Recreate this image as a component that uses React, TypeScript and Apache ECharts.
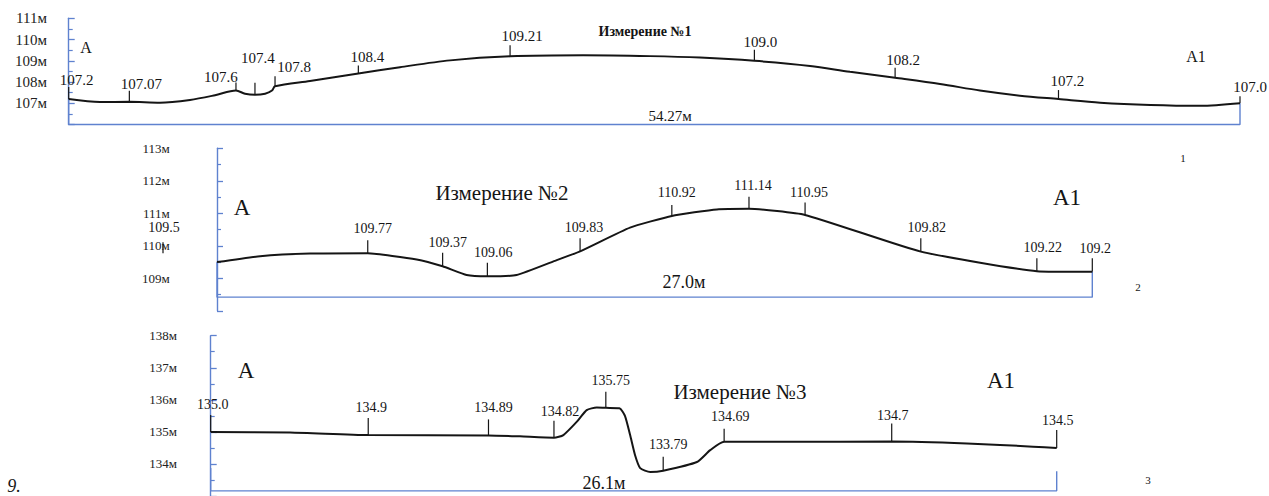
import React, { useEffect, useRef } from 'react';
import * as echarts from 'echarts';

// ---------------- data ----------------
// Measurement 1
const length1 = 54.27;
const yMin1 = 106;
const yMax1 = 111;
const dist1 = [0, 1.45, 2.81, 4.23, 5.62, 6.78, 7.75, 8.17, 8.63, 9.1, 9.42, 9.56, 11.18, 13.42, 15.35, 17.67, 20.45, 23.83, 26.93, 29.25, 31.77, 34.35, 36.2, 38.29, 40.37, 42.22, 44.07, 45.86, 47.79, 50.11, 52.43, 54.27];
const elev1 = [107.2, 107.06, 107.07, 107.03, 107.16, 107.38, 107.6, 107.45, 107.4, 107.45, 107.6, 107.8, 108.05, 108.4, 108.7, 109.02, 109.21, 109.26, 109.22, 109.15, 109.0, 108.76, 108.48, 108.2, 107.91, 107.6, 107.36, 107.2, 107.03, 106.92, 106.88, 107.0];
const markDist1 = [0, 2.81, 7.75, 8.63, 9.56, 13.42, 20.45, 31.77, 38.29, 45.86, 54.27];
const markElev1 = [107.2, 107.07, 107.6, 107.4, 107.8, 108.4, 109.21, 109.0, 108.2, 107.2, 107.0];
const markText1 = ['107.2', '107.07', '107.6', '107.4', '107.8', '108.4', '109.21', '109.0', '108.2', '107.2', '107.0'];
const base1 = 106.0;

// Measurement 2
const length2 = 27.0;
const yMin2 = 108;
const yMax2 = 113;
const dist2 = [0, 1.33, 2.87, 4.65, 6.16, 6.96, 7.7, 8.34, 9.24, 10.48, 11.2, 12.74, 14.03, 15.42, 16.41, 18.14, 21.71, 25.29, 27.0];
const elev2 = [109.5, 109.68, 109.76, 109.77, 109.58, 109.37, 109.1, 109.06, 109.1, 109.56, 109.83, 110.56, 110.92, 111.12, 111.14, 110.95, 109.82, 109.22, 109.2];
const markDist2 = [0, 4.65, 6.96, 8.34, 11.2, 14.03, 16.41, 18.14, 21.71, 25.29, 27.0];
const markElev2 = [109.5, 109.77, 109.37, 109.06, 109.83, 110.92, 111.14, 110.95, 109.82, 109.22, 109.2];
const markText2 = ['109.5', '109.77', '109.37', '109.06', '109.83', '110.92', '111.14', '110.95', '109.82', '109.22', '109.2'];
const base2 = 108.42;

// Measurement 3
const length3 = 26.1;
const yMin3 = 133;
const yMax3 = 138;
const dist3 = [0, 2.45, 4.86, 8.57, 9.54, 10.59, 10.88, 11.29, 11.6, 11.91, 12.19, 12.61, 12.78, 12.94, 13.09, 13.25, 13.56, 13.96, 15.0, 15.41, 15.84, 17.77, 21.01, 23.33, 25.37, 26.1];
const elev3 = [135.0, 134.98, 134.9, 134.89, 134.86, 134.82, 134.9, 135.31, 135.68, 135.76, 135.75, 135.74, 135.5, 134.9, 134.28, 133.87, 133.75, 133.79, 134.06, 134.43, 134.69, 134.69, 134.7, 134.64, 134.54, 134.5];
const markDist3 = [0, 4.86, 8.57, 10.59, 12.19, 13.96, 15.84, 21.01, 26.1];
const markElev3 = [135.0, 134.9, 134.89, 134.82, 135.75, 133.79, 134.69, 134.7, 134.5];
const markText3 = ['135.0', '134.9', '134.89', '134.82', '135.75', '133.79', '134.69', '134.7', '134.5'];
const base3 = 133.16;
const bracketTop3 = [133.87, 133.77];

const titles = ['Измерение №1', 'Измерение №2', 'Измерение №3'];
const lengthLabels = ['54.27м', '27.0м', '26.1м'];
const panelNumbers = ['1', '2', '3'];

// ---------------- styles / layout ----------------
const BLUE = '#5f82cf';
const INK = '#151515';
const FONT = 'serif';

const grids = [
  { left: 68.7, top: 18.3, width: 1171.3, height: 106.25 },
  { left: 217, top: 148.3, width: 875.3, height: 162.5 },
  { left: 210.7, top: 335.7, width: 846, height: 162.5 },
];
const axisOffsets = [18.7, 44.3, 30.7];
const axisFont = [15, 13, 13];

type MarkStyle = { dx: number[]; tick: number[]; lift: number[]; tickDx?: number[]; tickGap?: number[] };

const markStyle1: MarkStyle = {
  dx: [8, 12, -15, 3, 19, 9, 12, 6, 8, 9, 10],
  tick: [12, 11, 8, 12, 10, 8, 11, 11, 10, 9, 7],
  lift: [19, 18, 14, 37, 19, 17, 20, 19, 18, 18, 16],
};
const markStyle2: MarkStyle = {
  dx: [-53, 5, 5, 6, 4, 5, 4, 4, 6, 6, 3],
  tick: [11, 13, 13.5, 13.5, 13, 11, 12, 12.5, 13.5, 13, 13.5],
  lift: [34.7, 24.3, 23.3, 23.7, 24.3, 23.2, 23.7, 22.2, 23.7, 23.2, 23.8],
  tickDx: [-54, 0, 0, 0, 0, 0, 0, 0, 0, 0, 0],
  tickGap: [8.7, 0, 0, 0, 0, 0, 0, 0, 0, 0, 0],
};
const markStyle3: MarkStyle = {
  dx: [2, 3, 5, 6, 5, 5, 6, 1, 1],
  tick: [17, 17, 16, 17, 16, 14, 13, 18, 18],
  lift: [27.3, 27.2, 27.6, 26.4, 27.3, 26.6, 25.7, 26.3, 27.8],
};

function markSeries(idx: number, dist: number[], elev: number[], text: string[], st: MarkStyle, fontSize: number) {
  return {
    type: 'custom',
    xAxisIndex: idx,
    yAxisIndex: idx,
    clip: false,
    silent: true,
    data: dist.map((d, i) => [d, elev[i], i]),
    renderItem: (_params: any, api: any) => {
      const i = api.value(2) as number;
      const p = api.coord([api.value(0), api.value(1)]);
      const tx = p[0] + (st.tickDx ? st.tickDx[i] : 0);
      const y0 = p[1] - (st.tickGap ? st.tickGap[i] : 0);
      return {
        type: 'group',
        children: [
          { type: 'line', shape: { x1: tx, y1: y0, x2: tx, y2: y0 - st.tick[i] }, style: { stroke: INK, lineWidth: 1.2 } },
          {
            type: 'text',
            x: p[0] + st.dx[i],
            y: p[1] - st.lift[i],
            style: {
              text: text[i], fill: INK, fontSize, fontFamily: FONT,
              align: 'center', verticalAlign: 'middle', textAlign: 'center', textVerticalAlign: 'middle',
            },
          },
        ],
      };
    },
  };
}

function yAxis(idx: number, min: number, max: number) {
  return {
    type: 'value', gridIndex: idx, min, max, interval: 1, position: 'left', offset: axisOffsets[idx],
    axisLine: { show: true, lineStyle: { color: BLUE, width: 1.4 } },
    axisTick: { show: true, inside: true, length: 6, lineStyle: { color: BLUE, width: 1.3 } },
    minorTick: { show: true, splitNumber: 2, length: 4, lineStyle: { color: BLUE, width: 1.2 } },
    splitLine: { show: false },
    axisLabel: {
      showMinLabel: false, margin: 3, color: '#222', fontFamily: FONT, fontSize: axisFont[idx],
      formatter: (v: number) => (v === min ? '' : `${v}м`),
    },
  };
}

function xAxis(idx: number, max: number) {
  return { type: 'value', gridIndex: idx, min: 0, max, show: false };
}

function profileSeries(idx: number, dist: number[], elev: number[], smooth: number) {
  return {
    type: 'line', xAxisIndex: idx, yAxisIndex: idx, symbol: 'none', smooth, clip: false, silent: true,
    data: dist.map((d, i) => [d, elev[i]]),
    lineStyle: { color: INK, width: 2 },
  };
}

function bracketSeries(idx: number, pts: number[][]) {
  return {
    type: 'line', xAxisIndex: idx, yAxisIndex: idx, symbol: 'none', clip: false, silent: true,
    data: pts, lineStyle: { color: BLUE, width: 1.4 },
  };
}

function txt(text: string, x: number, y: number, fontSize: number, extra: any = {}) {
  return {
    type: 'text', x, y, silent: true,
    style: {
      text, fill: INK, fontSize, fontFamily: FONT,
      align: 'center', verticalAlign: 'middle', textAlign: 'center', textVerticalAlign: 'middle',
      ...extra,
    },
  };
}

export default function App() {
  const ref = useRef<HTMLDivElement>(null);
  useEffect(() => {
    if (!ref.current) return;
    const chart = echarts.init(ref.current, undefined, { renderer: 'svg' });
    chart.setOption({
      animation: false,
      backgroundColor: '#ffffff',
      textStyle: { fontFamily: FONT },
      grid: grids.map((g) => ({ ...g, containLabel: false })),
      xAxis: [xAxis(0, length1), xAxis(1, length2), xAxis(2, length3)],
      yAxis: [yAxis(0, yMin1, yMax1), yAxis(1, yMin2, yMax2), yAxis(2, yMin3, yMax3)],
      series: [
        bracketSeries(0, [[0, markElev1[0]], [0, base1], [length1, base1], [length1, markElev1[markElev1.length - 1]]]),
        bracketSeries(1, [[0, markElev2[0]], [0, base2], [length2, base2], [length2, markElev2[markElev2.length - 1]]]),
        bracketSeries(2, [[0, bracketTop3[0]], [0, base3], [length3, base3], [length3, bracketTop3[1]]]),
        profileSeries(0, dist1, elev1, 0.3),
        profileSeries(1, dist2, elev2, 0.15),
        profileSeries(2, dist3, elev3, 0.2),
        markSeries(0, markDist1, markElev1, markText1, markStyle1, 15),
        markSeries(1, markDist2, markElev2, markText2, markStyle2, 14),
        markSeries(2, markDist3, markElev3, markText3, markStyle3, 14),
      ],
      graphic: [
        txt(titles[0], 645, 31, 14, { fontWeight: 'bold' }),
        txt('A', 86, 47, 16),
        txt('A1', 1196, 56, 16),
        txt(lengthLabels[0], 670, 116, 15),
        txt(panelNumbers[0], 1183, 158, 11),
        txt(titles[1], 502, 193, 21),
        txt('A', 242, 207, 23),
        txt('A1', 1067, 197, 23),
        txt(lengthLabels[1], 684, 282, 18),
        txt(panelNumbers[1], 1138, 287, 11),
        txt(titles[2], 740, 392, 21),
        txt('A', 246, 370, 23),
        txt('A1', 1001, 380, 23),
        txt(lengthLabels[2], 604, 483, 18),
        txt(panelNumbers[2], 1148, 480, 11),
        txt('9.', 14, 486, 18, { fontStyle: 'italic' }),
      ],
    });
    return () => chart.dispose();
  }, []);
  return (
    <div
      ref={ref}
      style={{ position: 'absolute', left: 0, top: 0, width: 1269, height: 496, background: '#fff' }}
    />
  );
}
